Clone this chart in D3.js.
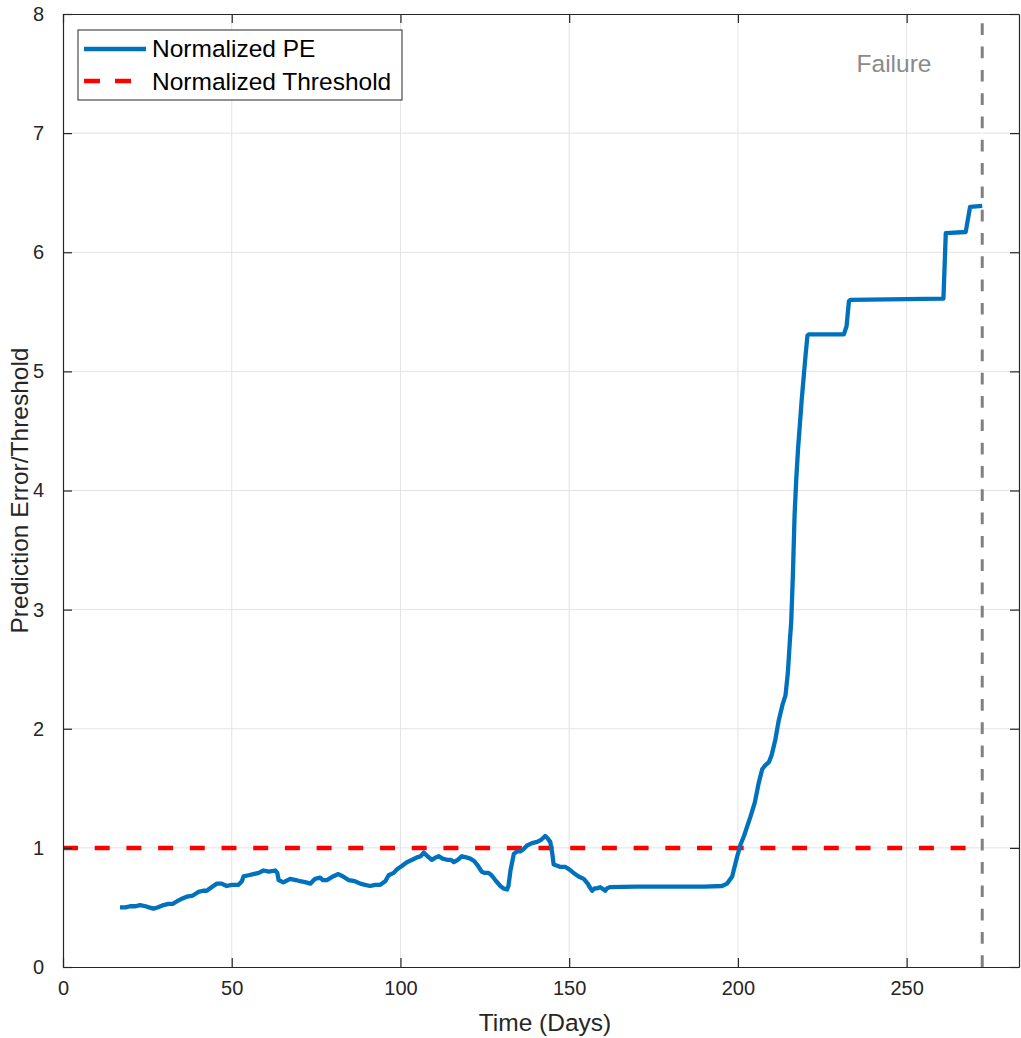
<!DOCTYPE html>
<html>
<head>
<meta charset="utf-8">
<script src="https://cdn.jsdelivr.net/npm/d3@7"></script>
<style>
  html, body { margin: 0; padding: 0; background: #fff; }
  svg text { font-family: "Liberation Sans", Arial, Helvetica, sans-serif; }
</style>
</head>
<body>
<svg id="chart" width="1021" height="1038"></svg>
<script>
// Normalized prediction error over time
const days = [16.9, 18.5, 19.9, 21.5, 22.8, 24.5, 25.5, 26.8, 28.0, 29.8, 31.2, 32.5, 33.7, 35.0, 36.7, 38.5,
  40.1, 41.5, 42.6, 44.0, 45.6, 47.0, 48.5, 50.0, 52.0, 53.0, 53.5, 55.0, 56.4, 58.0, 59.4, 61.0, 62.9, 63.5,
  63.9, 65.3, 67.3, 69.0, 70.3, 72.0, 73.3, 74.7, 76.2, 77.0, 78.2, 80.0, 81.6, 83.0, 84.6, 86.5, 88.1, 89.5,
  91.0, 92.5, 94.0, 95.5, 96.5, 98.0, 99.0, 100.5, 101.9, 103.5, 104.9, 106.0, 106.9, 108.0, 109.3, 110.5,
  111.3, 112.5, 113.8, 115.0, 115.8, 117.0, 118.2, 119.5, 120.7, 121.8, 122.7, 124.1, 125.0, 126.1, 127.0,
  128.1, 129.6, 130.5, 131.6, 132.0, 132.6, 133.6, 134.5, 135.5, 136.5, 137.5, 139.0, 140.5, 141.8, 142.9,
  143.6, 144.4, 145.0, 145.4, 146.5, 147.4, 148.9, 150.0, 151.3, 152.8, 154.3, 155.5, 156.3, 156.8, 157.5,
  158.2, 159.2, 160.2, 160.7, 161.2, 162.0, 170.0, 180.0, 190.0, 195.3, 196.8, 198.3, 199.8, 200.8, 201.8,
  203.7, 205.0, 206.2, 207.2, 208.0, 209.2, 210.0, 211.1, 212.1, 213.2, 214.1, 214.8, 215.4, 215.8, 216.3,
  216.8, 217.3, 217.8, 218.9, 220.0, 220.6, 221.0, 231.4, 232.2, 232.9, 233.3, 260.9, 261.6, 267.5, 268.8, 272.4];
const normalizedPE = [0.50, 0.50, 0.51, 0.51, 0.52, 0.51, 0.50, 0.49, 0.50, 0.52, 0.53, 0.53, 0.55, 0.57, 0.59, 0.60,
  0.63, 0.64, 0.64, 0.67, 0.70, 0.70, 0.68, 0.69, 0.69, 0.72, 0.76, 0.77, 0.78, 0.79, 0.81, 0.80, 0.81, 0.79,
  0.73, 0.71, 0.74, 0.73, 0.72, 0.71, 0.70, 0.74, 0.75, 0.73, 0.73, 0.76, 0.78, 0.76, 0.73, 0.72, 0.70, 0.69,
  0.68, 0.69, 0.69, 0.72, 0.77, 0.79, 0.82, 0.85, 0.88, 0.90, 0.92, 0.93, 0.96, 0.93, 0.90, 0.92,
  0.93, 0.91, 0.90, 0.90, 0.88, 0.90, 0.93, 0.92, 0.91, 0.89, 0.86, 0.80, 0.79, 0.79, 0.77,
  0.73, 0.68, 0.66, 0.65, 0.68, 0.81, 0.95, 0.97, 0.97, 0.99, 1.02, 1.04, 1.05, 1.07, 1.10,
  1.08, 1.05, 0.95, 0.86, 0.85, 0.84, 0.84, 0.82, 0.79, 0.76, 0.74, 0.70, 0.66, 0.64, 0.66,
  0.66, 0.67, 0.65, 0.64, 0.66, 0.67, 0.675, 0.675, 0.675, 0.68, 0.70, 0.76, 0.93, 1.03, 1.10,
  1.26, 1.38, 1.55, 1.66, 1.69, 1.72, 1.78, 1.91, 2.07, 2.20, 2.28, 2.47, 2.74, 2.90, 3.30,
  3.80, 4.10, 4.34, 4.76, 5.12, 5.30, 5.31, 5.31, 5.38, 5.59, 5.60, 5.61, 6.16, 6.17, 6.38, 6.39];

const thresholdLevel = 1;
const failureDay = 272.4;
const xTicks = [0, 50, 100, 150, 200, 250];
const yTicks = [0, 1, 2, 3, 4, 5, 6, 7, 8];
const legendLabels = ["Normalized PE", "Normalized Threshold"];

const svg = d3.select("#chart");
const m = { left: 63, top: 14, right: 1019, bottom: 967 };

const x = d3.scaleLinear().domain([0, failureDay * 1.04]).range([m.left, m.right]);
const y = d3.scaleLinear().domain([0, 8]).range([m.bottom, m.top]);

const axisColor = "#262626";
const tickLen = 9;
const labelSize = 24.5;

// grid
const grid = svg.append("g");
grid.selectAll("line.gx").data(xTicks.slice(1)).join("line")
  .attr("x1", d => x(d)).attr("x2", d => x(d))
  .attr("y1", m.top).attr("y2", m.bottom)
  .attr("stroke", "#e3e3e3").attr("stroke-width", 1);
grid.selectAll("line.gy").data(yTicks.slice(1, -1)).join("line")
  .attr("x1", m.left).attr("x2", m.right)
  .attr("y1", d => y(d)).attr("y2", d => y(d))
  .attr("stroke", "#e3e3e3").attr("stroke-width", 1);

// threshold (dashed red)
svg.append("line")
  .attr("x1", x(0)).attr("x2", x(failureDay))
  .attr("y1", y(thresholdLevel)).attr("y2", y(thresholdLevel))
  .attr("stroke", "#ff0000").attr("stroke-width", 4.5)
  .attr("stroke-dasharray", "15,16.7");

// normalized prediction error
const pts = days.map((d, i) => [d, normalizedPE[i]]);
svg.append("path")
  .datum(pts)
  .attr("d", d3.line().x(d => x(d[0])).y(d => y(d[1])))
  .attr("fill", "none")
  .attr("stroke", "#0072bd")
  .attr("stroke-width", 4.3)
  .attr("stroke-linejoin", "round");

// failure marker
svg.append("line")
  .attr("x1", x(failureDay)).attr("x2", x(failureDay))
  .attr("y1", y(0)).attr("y2", y(8))
  .attr("stroke", "#808080").attr("stroke-width", 3)
  .attr("stroke-dasharray", "11.7,11.6");

svg.append("text")
  .attr("x", 894).attr("y", 72)
  .attr("text-anchor", "middle")
  .attr("font-size", 24.5)
  .attr("fill", "#8a8a8a")
  .text("Failure");

// axes with inward ticks on all sides
const fmt = d3.format("d");
const gB = svg.append("g").attr("transform", `translate(0,${m.bottom})`)
  .call(d3.axisBottom(x).tickValues(xTicks).tickFormat(fmt).tickSizeInner(-tickLen).tickSizeOuter(0).tickPadding(14));
const gT = svg.append("g").attr("transform", `translate(0,${m.top})`)
  .call(d3.axisTop(x).tickValues(xTicks).tickFormat("").tickSizeInner(-tickLen).tickSizeOuter(0));
const gL = svg.append("g").attr("transform", `translate(${m.left},0)`)
  .call(d3.axisLeft(y).tickValues(yTicks).tickFormat(fmt).tickSizeInner(-tickLen).tickSizeOuter(0).tickPadding(19));
const gR = svg.append("g").attr("transform", `translate(${m.right},0)`)
  .call(d3.axisRight(y).tickValues(yTicks).tickFormat("").tickSizeInner(-tickLen).tickSizeOuter(0));

[gB, gT, gL, gR].forEach(g => {
  g.select(".domain").attr("stroke", axisColor).attr("stroke-width", 1.2);
  g.selectAll(".tick line").attr("stroke", axisColor).attr("stroke-width", 1.2);
  g.selectAll(".tick text").attr("fill", axisColor).attr("font-size", 20)
    .attr("font-family", "'Liberation Sans', Arial, sans-serif");
});

// axis titles
svg.append("text")
  .attr("x", (m.left + m.right) / 2 + 4).attr("y", 1031)
  .attr("text-anchor", "middle").attr("font-size", labelSize).attr("fill", axisColor)
  .text("Time (Days)");
svg.append("text")
  .attr("transform", `translate(28,${(m.top + m.bottom) / 2}) rotate(-90)`)
  .attr("text-anchor", "middle").attr("font-size", labelSize).attr("fill", axisColor)
  .text("Prediction Error/Threshold");

// legend
const lg = svg.append("g");
lg.append("rect").attr("x", 78).attr("y", 30).attr("width", 324).attr("height", 70)
  .attr("fill", "#fff").attr("stroke", axisColor).attr("stroke-width", 1);
lg.append("line").attr("x1", 84).attr("x2", 146).attr("y1", 49).attr("y2", 49)
  .attr("stroke", "#0072bd").attr("stroke-width", 4.3);
lg.append("line").attr("x1", 84).attr("x2", 146).attr("y1", 81).attr("y2", 81)
  .attr("stroke", "#ff0000").attr("stroke-width", 4.5).attr("stroke-dasharray", "16,15");
lg.selectAll("text").data(legendLabels).join("text")
  .attr("x", 152).attr("y", (d, i) => 57 + i * 33)
  .attr("font-size", labelSize).attr("fill", "#000")
  .text(d => d);
</script>
</body>
</html>
